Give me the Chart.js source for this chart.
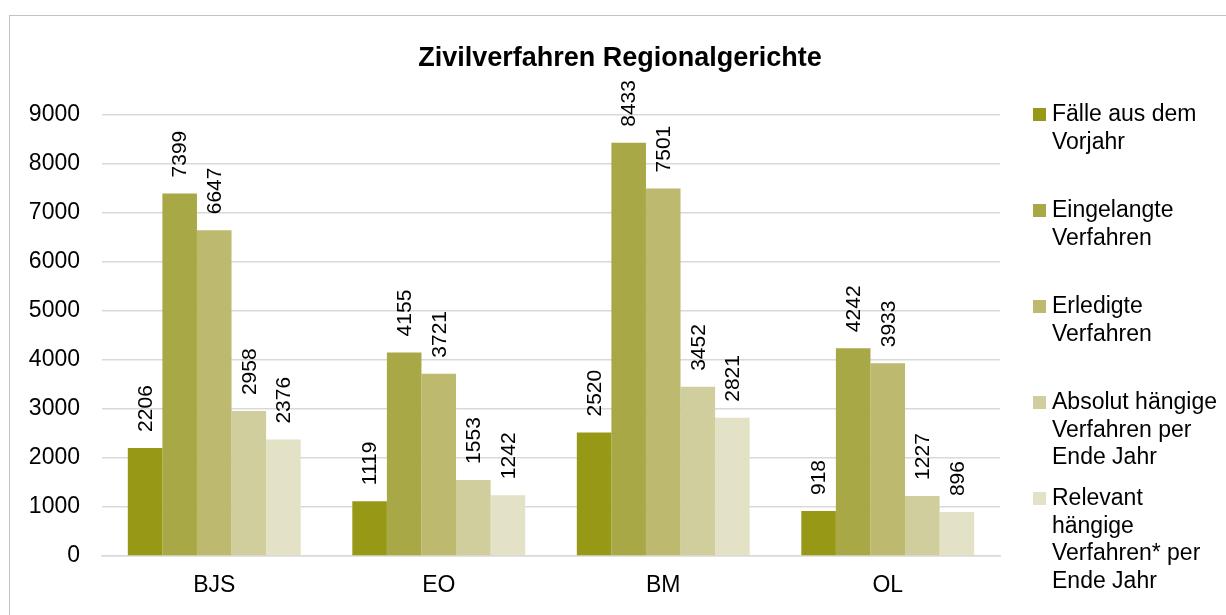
<!DOCTYPE html>
<html>
<head>
<meta charset="utf-8">
<script src="https://cdn.jsdelivr.net/npm/chart.js@4/dist/chart.umd.min.js"></script>
<style>
    body { margin: 0; background: #fff; }
    #wrap { position: relative; width: 1226px; height: 615px; overflow: hidden; }
    #rahmen { position: absolute; left: 9px; top: 15px; width: 1300px; height: 700px; border: 1px solid #c3c3c3; box-sizing: border-box; }
    canvas { position: absolute; left: 0; top: 0; }
    #legende { position: absolute; left: 0; top: 0; font-family: "Liberation Sans", Arial, sans-serif; font-size: 23px; line-height: 27.5px; color: #000; }
    .item { position: absolute; left: 1033px; width: 190px; }
    .box { position: absolute; left: 0; top: 8px; width: 13px; height: 13px; }
    .txt { position: absolute; left: 19px; top: 0; white-space: nowrap; }
</style>
</head>
<body>
<div id="wrap">
    <div id="rahmen"></div>
    <canvas id="chartZivil" width="1226" height="615"></canvas>
    <div id="legende"></div>
</div>
<script>
// Daten
const gerichte = ['BJS', 'EO', 'BM', 'OL'];
const faelleVorjahr = [2206, 1119, 2520, 918];
const eingelangt = [7399, 4155, 8433, 4242];
const erledigt = [6647, 3721, 7501, 3933];
const absolutHaengig = [2958, 1553, 3452, 1227];
const relevantHaengig = [2376, 1242, 2821, 896];
const yTicks = [0, 1000, 2000, 3000, 4000, 5000, 6000, 7000, 8000, 9000];

const serienNamen = [
    ['Fälle aus dem', 'Vorjahr'],
    ['Eingelangte', 'Verfahren'],
    ['Erledigte', 'Verfahren'],
    ['Absolut hängige', 'Verfahren per', 'Ende Jahr'],
    ['Relevant', 'hängige', 'Verfahren* per', 'Ende Jahr']
];
const farben = ['#989817', '#a9a846', '#bdba6f', '#d0ce9c', '#e3e2c6'];
const werte = [faelleVorjahr, eingelangt, erledigt, absolutHaengig, relevantHaengig];

const FONT = '"Liberation Sans", Arial, sans-serif';

// Titel und Werte-Beschriftungen
const beschriftungPlugin = {
    id: 'beschriftung',
    afterDatasetsDraw(chart) {
        const ctx = chart.ctx;
        ctx.save();
        ctx.fillStyle = '#000';
        ctx.font = 'bold 27px ' + FONT;
        ctx.textAlign = 'center';
        ctx.textBaseline = 'alphabetic';
        ctx.fillText('Zivilverfahren Regionalgerichte', 620, 66);

        ctx.font = '21px ' + FONT;
        ctx.textAlign = 'left';
        ctx.textBaseline = 'middle';
        chart.data.datasets.forEach((ds, i) => {
            const meta = chart.getDatasetMeta(i);
            meta.data.forEach((bar, j) => {
                ctx.save();
                ctx.translate(bar.x, bar.y - 16);
                ctx.rotate(-Math.PI / 2);
                ctx.fillText(String(ds.data[j]), 0, 1);
                ctx.restore();
            });
        });
        ctx.restore();
    }
};

new Chart(document.getElementById('chartZivil'), {
    type: 'bar',
    data: {
        labels: gerichte,
        datasets: werte.map((w, i) => ({
            label: serienNamen[i].join(' '),
            data: w,
            backgroundColor: farben[i],
            borderWidth: 0,
            barPercentage: 1,
            categoryPercentage: 0.77
        }))
    },
    options: {
        responsive: false,
        animation: false,
        layout: { padding: { top: 115, right: 226, left: 0, bottom: 0 } },
        plugins: {
            legend: { display: false },
            title: { display: false },
            tooltip: { enabled: false }
        },
        scales: {
            y: {
                min: 0,
                max: 9000,
                afterFit: (s) => { s.width = 102; },
                afterBuildTicks: (s) => { s.ticks = yTicks.map(v => ({ value: v })); },
                ticks: { font: { size: 23, family: FONT }, color: '#000', padding: 22, callback: (v) => String(v) },
                grid: { color: '#d9d9d9', lineWidth: 1.5, drawTicks: false },
                border: { display: false }
            },
            x: {
                afterFit: (s) => { s.height = 59; },
                ticks: { font: { size: 23, family: FONT }, color: '#000', padding: 16 },
                grid: { display: false, drawTicks: false },
                border: { color: '#d9d9d9', width: 1.5 }
            }
        }
    },
    plugins: [beschriftungPlugin]
});

// Legende rechts
const legende = document.getElementById('legende');
serienNamen.forEach((zeilen, i) => {
    const item = document.createElement('div');
    item.className = 'item';
    item.style.top = (100 + i * 96) + 'px';
    item.innerHTML = '<div class="box" style="background:' + farben[i] + '"></div><div class="txt">' + zeilen.join('<br>') + '</div>';
    legende.appendChild(item);
});
</script>
</body>
</html>
